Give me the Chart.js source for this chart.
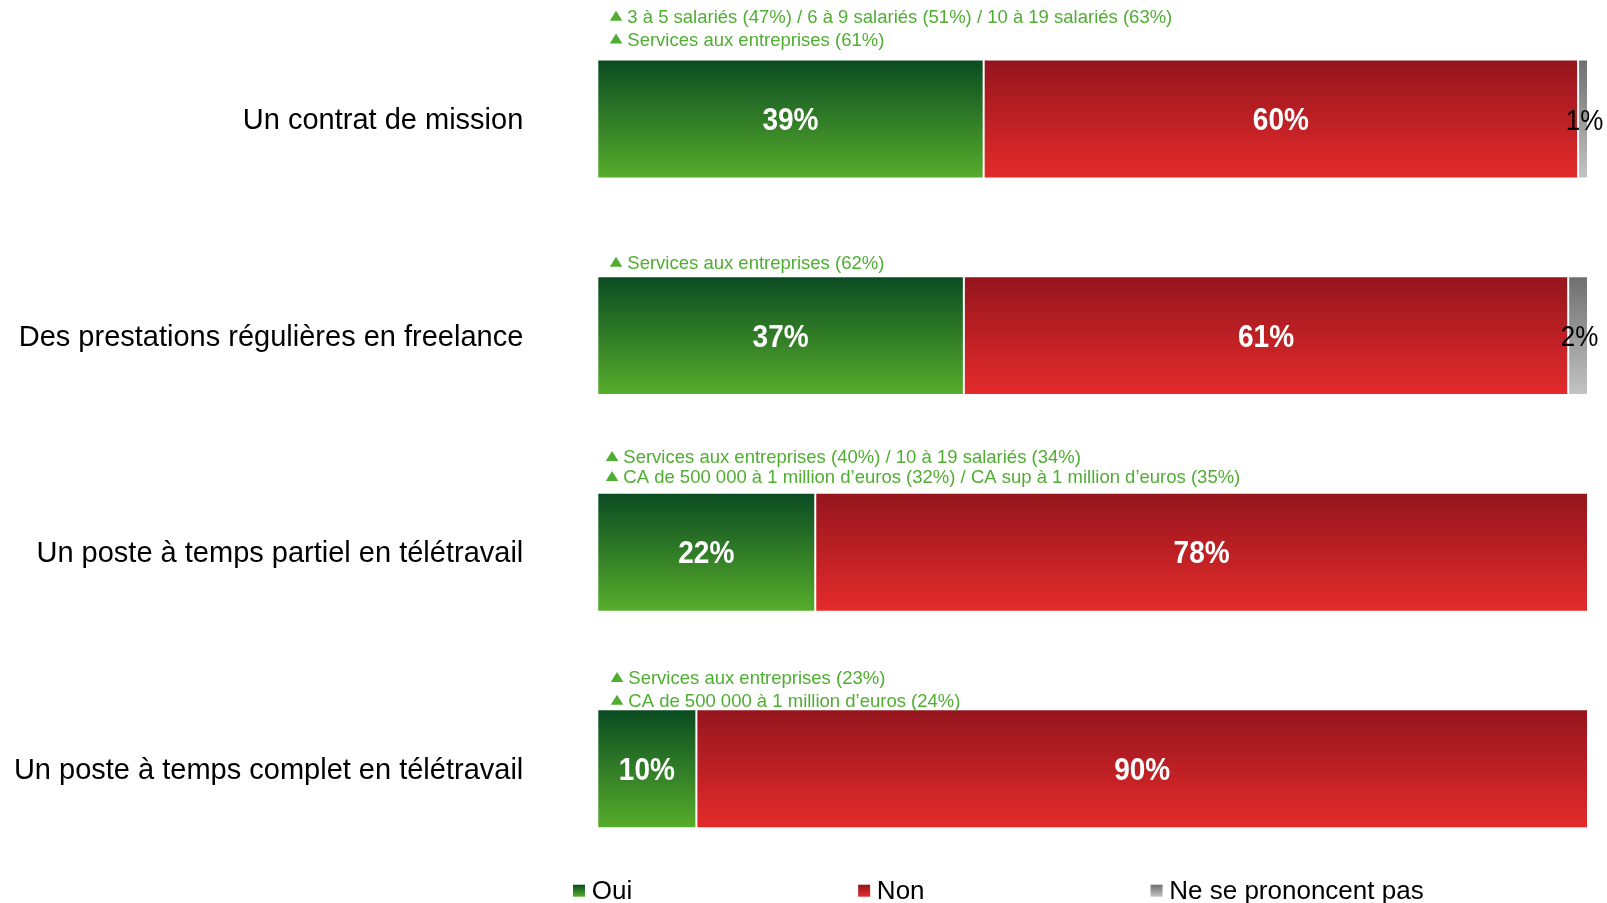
<!DOCTYPE html>
<html lang="fr">
<head>
<meta charset="utf-8">
<title>Recours envisagés</title>
<script src="https://cdn.jsdelivr.net/npm/chart.js@4.4.1/dist/chart.umd.min.js"></script>
<style>
  html, body { margin: 0; padding: 0; background: #ffffff; }
  #wrap { width: 1607px; height: 903px; }
</style>
</head>
<body>
<div id="wrap"><canvas id="c" width="1607" height="903"></canvas></div>
<script>
// ---- Data -------------------------------------------------------------
const categories = [
  'Un contrat de mission',
  'Des prestations régulières en freelance',
  'Un poste à temps partiel en télétravail',
  'Un poste à temps complet en télétravail'
];
const seriesNames = ['Oui', 'Non', 'Ne se prononcent pas'];
const oui = [39, 37, 22, 10];
const non = [60, 61, 78, 90];
const nsp = [1, 2, 0, 0];

// Sub-group highlights shown above each bar
const notes = [
  ['3 à 5 salariés (47%) / 6 à 9 salariés (51%) / 10 à 19 salariés (63%)', 'Services aux entreprises (61%)'],
  ['Services aux entreprises (62%)'],
  ['Services aux entreprises (40%) / 10 à 19 salariés (34%)', 'CA de 500 000 à 1 million d’euros (32%) / CA sup à 1 million d’euros (35%)'],
  ['Services aux entreprises (23%)', 'CA de 500 000 à 1 million d’euros (24%)']
];

// ---- Layout / styles --------------------------------------------------
const FONT = "'Liberation Sans', Arial, Helvetica, sans-serif";
const BAR_PCT = 0.549;
const NOTE_COLOR = '#4fae31';
// distance (px) from the top of each bar up to the middle of each note line
const noteLineRise = [[42.7, 20], [13.4], [35.7, 15.7], [31.3, 8.6]];
// left offset (px) of the note text from the start of the bar
const noteTextX = [30, 30, 26, 31];

const palette = {
  oui: ['#0a4b22', '#57ad2b'],
  non: ['#94151d', '#e52b2b'],
  nsp: ['#6e6e6e', '#c4c4c4']
};

function barGradient(stops) {
  return (ctx) => {
    const chart = ctx.chart;
    const y = chart.scales && chart.scales.y;
    if (!chart.chartArea || !y || ctx.dataIndex === undefined) return stops[1];
    const center = y.getPixelForValue(ctx.dataIndex);
    const half = (y.bottom - y.top) / categories.length * BAR_PCT / 2;
    const g = chart.ctx.createLinearGradient(0, center - half, 0, center + half);
    g.addColorStop(0, stops[0]);
    g.addColorStop(1, stops[1]);
    return g;
  };
}

// Percentages written inside the segments (slightly tall lettering)
const valueLabels = {
  id: 'valueLabels',
  afterDatasetsDraw(chart) {
    const c = chart.ctx;
    const stretch = 1.12;
    chart.data.datasets.forEach((ds, di) => {
      const meta = chart.getDatasetMeta(di);
      meta.data.forEach((el, i) => {
        const v = ds.data[i];
        if (!v) return;
        const p = el.getCenterPoint();
        c.save();
        c.textAlign = 'center';
        c.textBaseline = 'middle';
        if (di === 2) {
          c.fillStyle = '#000000';
          c.font = `26px ${FONT}`;
        } else {
          c.fillStyle = '#ffffff';
          c.font = `bold 28px ${FONT}`;
        }
        c.translate(p.x + (di === 2 ? 1.5 : 0), p.y + 2.5);
        c.scale(1, stretch);
        c.fillText(v + '%', 0, 0);
        c.restore();
      });
    });
  }
};

// Green notes with a triangle marker above the bars
const notesPlugin = {
  id: 'notes',
  afterDraw(chart) {
    const c = chart.ctx;
    const y = chart.scales.y;
    const left = chart.chartArea.left;
    const half = (y.bottom - y.top) / categories.length * BAR_PCT / 2;
    c.save();
    c.font = `18.5px ${FONT}`;
    c.fillStyle = NOTE_COLOR;
    c.textAlign = 'left';
    c.textBaseline = 'middle';
    notes.forEach((lines, i) => {
      const top = y.getPixelForValue(i) - half;
      const tx = left + noteTextX[i];
      lines.forEach((txt, k) => {
        const ly = top - noteLineRise[i][k];
        c.fillText(txt, tx, ly + 1);
        c.beginPath();
        c.moveTo(tx - 17.5, ly + 4);
        c.lineTo(tx - 5, ly + 4);
        c.lineTo(tx - 11.25, ly - 6);
        c.closePath();
        c.fill();
      });
    });
    c.restore();
  }
};

// Legend row along the bottom
const bottomLegend = {
  id: 'bottomLegend',
  afterDraw(chart) {
    const c = chart.ctx;
    const stops = [palette.oui, palette.non, palette.nsp];
    const cy = 890.7;
    let x = 573;
    c.save();
    c.font = `26px ${FONT}`;
    c.textAlign = 'left';
    c.textBaseline = 'middle';
    seriesNames.forEach((name, i) => {
      const g = c.createLinearGradient(0, cy - 6, 0, cy + 6);
      g.addColorStop(0, stops[i][0]);
      g.addColorStop(1, stops[i][1]);
      c.fillStyle = g;
      c.fillRect(x, cy - 6, 12, 12);
      c.fillStyle = '#000000';
      c.fillText(name, x + 18.7, cy + 1);
      x += 18.7 + c.measureText(name).width + 226;
    });
    c.restore();
  }
};

new Chart(document.getElementById('c'), {
  type: 'bar',
  data: {
    labels: categories,
    datasets: [
      { label: seriesNames[0], data: oui, backgroundColor: barGradient(palette.oui) },
      { label: seriesNames[1], data: non, backgroundColor: barGradient(palette.non) },
      { label: seriesNames[2], data: nsp, backgroundColor: barGradient(palette.nsp) }
    ]
  },
  options: {
    indexAxis: 'y',
    responsive: false,
    animation: false,
    devicePixelRatio: 1,
    layout: { padding: { top: 10.7, right: 19, bottom: 25.9, left: 0 } },
    datasets: {
      bar: {
        categoryPercentage: 1,
        barPercentage: BAR_PCT,
        borderColor: '#ffffff',
        borderWidth: 1,
        borderSkipped: false
      }
    },
    scales: {
      x: { display: false, stacked: true, min: 0, max: 100 },
      y: {
        stacked: true,
        grid: { display: false, drawTicks: false },
        border: { display: false },
        ticks: { color: '#000000', font: { family: FONT, size: 29 }, padding: 74, labelOffset: 2 },
        afterFit(scale) {
          scale.width = 597.3;
          scale.paddingTop = 0;
          scale.paddingBottom = 0;
        }
      }
    },
    plugins: {
      legend: { display: false },
      tooltip: { enabled: false }
    }
  },
  plugins: [valueLabels, notesPlugin, bottomLegend]
});
</script>
</body>
</html>
